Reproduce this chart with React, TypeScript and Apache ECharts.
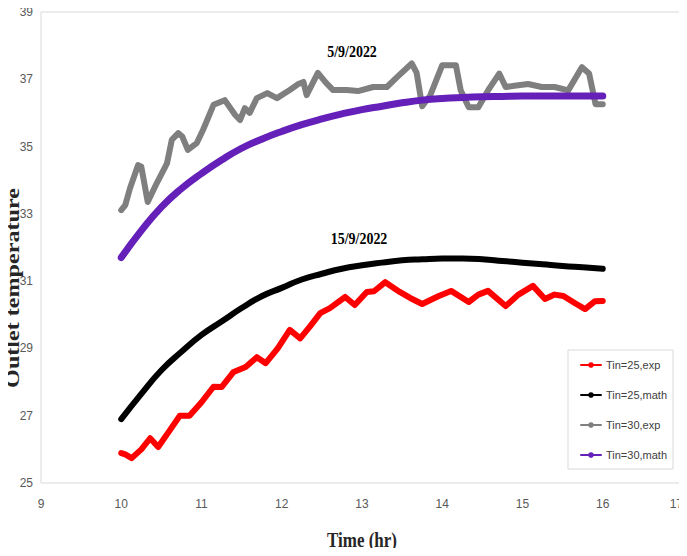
import React, { useEffect, useRef } from "react";
import * as echarts from "echarts";

const seriesNames = ["Tin=25,exp", "Tin=25,math", "Tin=30,exp", "Tin=30,math"];
const seriesColors = ["#ff0000", "#000000", "#7f7f7f", "#6420b8"];

const xTicks = { min: 9, max: 17, interval: 1 };
const yTicks = { min: 25, max: 39, interval: 2 };

const mathTimes = [10, 10.25, 10.5, 10.75, 11, 11.25, 11.5, 11.75, 12, 12.25, 12.5, 12.75, 13, 13.25, 13.5, 13.75, 14, 14.25, 14.5, 14.75, 15, 15.25, 15.5, 15.75, 16];

const tin25Math = [26.9, 27.65, 28.35, 28.9, 29.4, 29.8, 30.2, 30.55, 30.8, 31.05, 31.22, 31.37, 31.47, 31.55, 31.62, 31.65, 31.67, 31.67, 31.65, 31.6, 31.55, 31.5, 31.45, 31.41, 31.37];

const tin30Math = [31.7, 32.5, 33.2, 33.75, 34.2, 34.6, 34.95, 35.22, 35.45, 35.65, 35.82, 35.97, 36.1, 36.2, 36.3, 36.38, 36.43, 36.46, 36.48, 36.49, 36.5, 36.5, 36.5, 36.5, 36.5];

const tin25Exp: [number, number][] = [
  [10.0, 25.89], [10.05, 25.85], [10.13, 25.74], [10.25, 26.0], [10.36, 26.33], [10.46, 26.07],
  [10.6, 26.55], [10.73, 27.0], [10.85, 27.0], [11.0, 27.4], [11.15, 27.86], [11.25, 27.85],
  [11.4, 28.3], [11.55, 28.45], [11.69, 28.74], [11.8, 28.56], [11.95, 29.0], [12.1, 29.55],
  [12.23, 29.3], [12.35, 29.65], [12.48, 30.05], [12.6, 30.2], [12.79, 30.53], [12.91, 30.29],
  [13.06, 30.68], [13.15, 30.7], [13.29, 30.97], [13.47, 30.68], [13.6, 30.5], [13.75, 30.32],
  [13.95, 30.55], [14.11, 30.71], [14.33, 30.38], [14.45, 30.6], [14.57, 30.71], [14.79, 30.26],
  [14.95, 30.6], [15.13, 30.86], [15.28, 30.47], [15.4, 30.6], [15.51, 30.56], [15.65, 30.35],
  [15.78, 30.17], [15.9, 30.4], [16.0, 30.41],
];

const tin30Exp: [number, number][] = [
  [10.0, 33.11], [10.05, 33.26], [10.11, 33.77], [10.21, 34.45], [10.25, 34.4], [10.33, 33.35],
  [10.44, 33.9], [10.57, 34.5], [10.63, 35.2], [10.71, 35.4], [10.76, 35.3], [10.83, 34.9],
  [10.94, 35.1], [11.02, 35.5], [11.15, 36.24], [11.29, 36.38], [11.42, 35.94], [11.48, 35.79],
  [11.54, 36.14], [11.6, 36.0], [11.69, 36.44], [11.82, 36.59], [11.94, 36.44], [12.1, 36.68],
  [12.2, 36.85], [12.27, 36.92], [12.31, 36.53], [12.45, 37.19], [12.55, 36.9], [12.64, 36.68],
  [12.81, 36.68], [12.95, 36.65], [13.14, 36.77], [13.31, 36.77], [13.44, 37.07], [13.62, 37.47],
  [13.68, 37.2], [13.75, 36.2], [13.85, 36.52], [14.0, 37.42], [14.17, 37.42], [14.23, 36.67],
  [14.33, 36.17], [14.45, 36.17], [14.57, 36.67], [14.71, 37.17], [14.79, 36.77], [14.9, 36.81],
  [15.07, 36.86], [15.24, 36.77], [15.4, 36.77], [15.57, 36.67], [15.74, 37.36], [15.83, 37.17],
  [15.91, 36.26], [16.0, 36.26],
];

const annotations = ["5/9/2022", "15/9/2022"];
const xTitle = "Time (hr)";
const yTitle = "Outlet temperature";

const narrow = "'Liberation Sans Narrow', 'Liberation Sans', sans-serif";
const serif = "'Liberation Serif', 'Times New Roman', serif";

export default function App() {
  const ref = useRef<HTMLDivElement>(null);
  useEffect(() => {
    if (!ref.current) return;
    const chart = echarts.init(ref.current, undefined, { renderer: "svg" });
    const zip = (t: number[], v: number[]) => t.map((x, i) => [x, v[i]]);
    const datasets = [tin25Exp, zip(mathTimes, tin25Math), tin30Exp, zip(mathTimes, tin30Math)];
    const widths = [6, 6, 6, 7];
    const smooth = [false, true, false, true];
    chart.setOption({
      animation: false,
      backgroundColor: "#ffffff",
      grid: {
        left: 41, right: 4, top: 12, bottom: 73,
        show: true, borderColor: "#d9d9d9", borderWidth: 1, backgroundColor: "transparent",
      },
      xAxis: {
        type: "value", min: xTicks.min, max: xTicks.max, interval: xTicks.interval,
        axisLine: { show: false }, axisTick: { show: false }, splitLine: { show: false },
        axisLabel: { color: "#595959", fontSize: 12, fontFamily: narrow, margin: 15, alignMaxLabel: "right" },
      },
      yAxis: {
        type: "value", min: yTicks.min, max: yTicks.max, interval: yTicks.interval,
        axisLine: { show: false }, axisTick: { show: false }, splitLine: { show: false },
        axisLabel: { color: "#595959", fontSize: 12, fontFamily: narrow, margin: 8 },
      },
      legend: {
        data: seriesNames,
        orient: "vertical",
        left: 568, top: 350,
        padding: [8, 6, 7, 12],
        itemWidth: 20, itemHeight: 7, itemGap: 16,
        backgroundColor: "#ffffff",
        borderColor: "#d9d9d9", borderWidth: 1,
        lineStyle: { width: 2 },
        textStyle: { color: "#404040", fontSize: 11, fontFamily: narrow, lineHeight: 14 },
      },
      series: seriesNames.map((name, i) => ({
        name, type: "line", data: datasets[i], smooth: smooth[i],
        symbol: "circle", symbolSize: 5, showSymbol: false,
        color: seriesColors[i],
        lineStyle: { color: seriesColors[i], width: widths[i], cap: "round", join: "round" },
        itemStyle: { color: seriesColors[i] },
        z: 2 + i,
      })),
      graphic: [
        {
          type: "text", x: 352, y: 51, scaleY: 1.25, z: 10,
          style: { text: annotations[0], fontFamily: serif, fontWeight: "bold", fontSize: 14, fill: "#000", textAlign: "center", textVerticalAlign: "middle" },
        },
        {
          type: "text", x: 359, y: 238, scaleY: 1.25, z: 10,
          style: { text: annotations[1], fontFamily: serif, fontWeight: "bold", fontSize: 14, fill: "#000", textAlign: "center", textVerticalAlign: "middle" },
        },
        {
          type: "text", x: 362, y: 540, scaleY: 1.25, z: 10,
          style: { text: xTitle, fontFamily: serif, fontWeight: "bold", fontSize: 17, fill: "#262626", textAlign: "center", textVerticalAlign: "middle" },
        },
        {
          type: "text", x: 13, y: 288, rotation: Math.PI / 2, scaleX: 1.27, z: 10,
          style: { text: yTitle, fontFamily: serif, fontWeight: "bold", fontSize: 19, fill: "#262626", textAlign: "center", textVerticalAlign: "middle" },
        },
      ],
    });
    return () => chart.dispose();
  }, []);
  return <div ref={ref} style={{ width: 687, height: 556, margin: -8 }} />;
}
